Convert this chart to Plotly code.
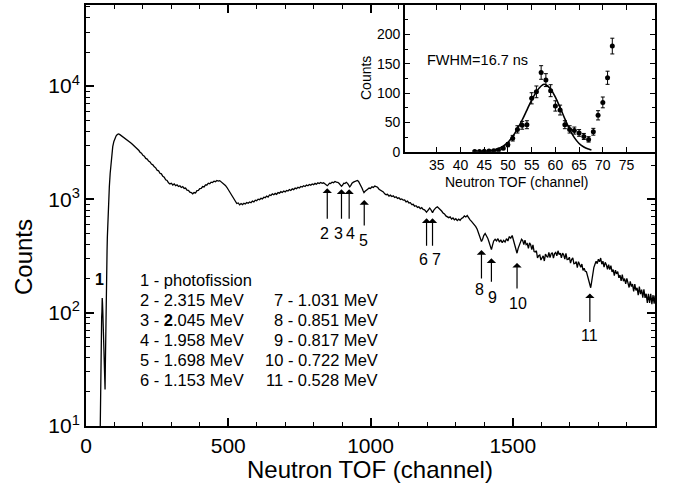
import math
import plotly.graph_objects as go

# ---------------- inset data (channel, counts, errors) ----------------
inset_ch = list(range(43, 73))
inset_counts = [0.5, 0.5, 0.7, 1, 1.5, 3, 6, 12, 23, 38, 45, 46, 91, 102, 135,
                122, 104, 78, 71, 46, 38, 36, 32, 26, 21, 34, 62, 84, 126, 180]
inset_err = [0.7, 0.7, 0.8, 1, 1.2, 1.7, 2.4, 3.5, 4.8, 6.2, 6.7, 6.8, 9.5, 10, 11.6,
             11, 10.2, 8.8, 8.4, 6.8, 6.2, 6, 5.7, 5.1, 4.6, 5.8, 7.9, 9.2, 11.2, 13.4]

# fitted curve in the inset
fit_ch = [44, 45, 46, 47, 48, 49, 50, 51, 52, 53, 54, 55, 56, 57, 57.6, 58, 59, 60,
          61, 62, 63, 64, 65, 66, 67, 67.6]
fit_counts = [0.3, 0.6, 1.3, 2.7, 5.3, 9.6, 16, 26, 39, 54, 71, 88, 102, 112, 115, 114,
              107, 93, 75, 56, 38, 24, 14, 8, 4.5, 3]

# ---------------- main spectrum, after the photofission peak ----------------
tail_ch_a = [73, 74, 75, 76, 77, 78, 80, 82, 85, 88, 91, 94, 98, 102, 106, 110, 114, 118, 122,
             126, 130, 134, 138, 142, 146, 150, 154, 158, 162, 166, 170, 174, 178, 182, 186, 190,
             195, 200, 205, 210, 215, 220, 225, 230, 235, 240, 245, 250, 255, 260, 265, 270, 275,
             280, 285, 290, 295, 300, 305, 310, 315, 320, 325, 330, 335, 340, 345, 350, 355, 360,
             365, 370, 375, 380, 385, 390, 395, 400, 405, 410, 415, 420, 425, 430, 435, 440, 445,
             450, 455, 460, 465, 470, 475, 480, 485, 490, 495, 500, 505, 510, 515, 520, 525, 530,
             535, 540, 545, 550, 555, 560, 565, 570, 575, 580, 585, 590, 595, 600, 605, 610, 615,
             620, 625, 630, 635, 640, 645, 650, 655, 660, 665, 670, 675, 680, 685, 690, 695, 700,
             705, 710, 715, 720, 725, 730, 735, 740, 745, 750, 755, 760, 765, 770, 775, 780, 785,
             790, 795, 800, 805, 810, 815, 820, 825, 830, 835, 840, 845, 848, 852, 856, 860, 865,
             870, 875, 880, 885, 890, 895, 898, 902, 906, 910, 915, 920, 924, 927, 931, 935, 940,
             945, 950, 954, 958, 962, 966, 970, 974, 977, 981, 985, 990, 995, 1000, 1005, 1010,
             1015, 1020, 1025, 1030, 1035, 1040, 1045, 1050, 1055, 1060, 1065, 1070, 1075, 1080,
             1085, 1090, 1095, 1100, 1105, 1110, 1115, 1120, 1125, 1130, 1135, 1140, 1145, 1150,
             1155, 1160, 1165, 1170, 1175, 1180, 1185, 1190, 1194, 1197, 1200, 1204, 1208, 1212,
             1215, 1218, 1222, 1226, 1230, 1235, 1240, 1245, 1250, 1255, 1260, 1265, 1270, 1275,
             1280, 1285, 1290, 1295, 1300, 1305, 1310, 1315, 1320, 1325, 1330, 1335, 1340, 1345,
             1350, 1355, 1360, 1365, 1370, 1375, 1380, 1385, 1390, 1394, 1398, 1403, 1408, 1412,
             1416, 1420, 1425, 1429, 1433, 1438, 1443, 1448, 1453, 1458, 1463, 1468, 1473, 1478,
             1483, 1488, 1493, 1498, 1502, 1506, 1510, 1515, 1519, 1523, 1527, 1531]
tail_counts_a = [260, 350, 460, 580, 700, 820, 1030, 1290, 1700, 2150, 2550, 2920, 3250, 3480,
                 3640, 3740, 3790, 3750, 3690,
                 3600, 3570, 3480, 3450, 3360, 3330, 3250, 3200, 3150, 3080, 3020, 2950, 2880,
                 2830, 2740, 2700, 2610, 2560, 2450, 2410, 2300, 2270, 2180, 2140, 2050, 2020,
                 1940, 1900, 1810, 1790, 1700, 1680, 1600, 1570, 1490, 1470, 1400, 1370, 1390,
                 1340, 1370, 1320, 1345, 1300, 1320, 1275, 1295, 1250, 1260, 1210, 1205, 1160,
                 1150, 1120, 1150, 1140, 1195, 1200, 1245, 1250, 1300, 1290, 1345, 1340, 1390,
                 1375, 1420, 1410, 1450, 1435, 1470, 1450, 1465, 1430, 1410, 1365, 1330, 1280,
                 1220, 1160, 1110, 1060, 1000, 965, 920, 930, 895, 920, 900, 925, 910, 940, 925,
                 950, 935, 965, 950, 985, 975, 1005, 995, 1025, 1010, 1045, 1035, 1070, 1050,
                 1095, 1085, 1120, 1100, 1130, 1110, 1150, 1135, 1170, 1150, 1185, 1165, 1200,
                 1185, 1220, 1200, 1240, 1220, 1260, 1245, 1280, 1260, 1300, 1285, 1320, 1300,
                 1340, 1320, 1355, 1335, 1370, 1350, 1385, 1360, 1400, 1380, 1410, 1385, 1400,
                 1370, 1345, 1320, 1350, 1390, 1380, 1420, 1405, 1440, 1420, 1415, 1380, 1330,
                 1305, 1340, 1390, 1380, 1415, 1380, 1320, 1290, 1330, 1390, 1420, 1440, 1460,
                 1470, 1440, 1390, 1320, 1260, 1190, 1150, 1180, 1210, 1230, 1260, 1250, 1290,
                 1275, 1310, 1295, 1280, 1230, 1205, 1180, 1165, 1120, 1100, 1110, 1070, 1090,
                 1060, 1075, 1040, 1055, 1020, 1035, 1000, 1010, 985, 990, 950, 965, 930, 935,
                 900, 905, 870, 880, 850, 860, 830, 845, 815, 810, 790, 770, 790, 825, 840, 815,
                 785, 765, 800, 830, 845, 860, 840, 810, 790, 760, 745, 715, 705, 690, 700, 670,
                 685, 660, 675, 650, 670, 655, 680, 690, 715, 700, 720, 680, 660, 640, 620, 600,
                 575, 545, 500, 460, 425, 445, 480, 500, 480, 455, 425, 390, 360, 395, 430, 445,
                 430, 450, 420, 440, 415, 435, 420, 450, 430, 470, 455, 480, 440, 410, 370, 335,
                 370, 400, 430, 445]
tail_ch_b = [1535, 1539, 1543, 1547, 1551, 1555, 1559, 1563, 1567, 1571, 1575, 1579, 1583, 1587,
             1591, 1595, 1599, 1603, 1607, 1611, 1615, 1619, 1623, 1627, 1631, 1635, 1639, 1643,
             1647, 1651, 1655, 1659, 1663, 1667, 1671, 1675, 1679, 1683, 1687, 1691, 1695, 1699,
             1703, 1707, 1711, 1715, 1719, 1723, 1727, 1731, 1735, 1739, 1743, 1747, 1751, 1755,
             1759, 1763, 1767, 1771, 1774, 1777, 1781, 1785, 1789, 1793, 1797, 1801, 1805, 1809,
             1813, 1817, 1821, 1825, 1829, 1833, 1837, 1841, 1845, 1849, 1853, 1857, 1861, 1865,
             1869, 1873, 1877, 1881, 1885, 1889, 1893, 1897, 1901, 1905, 1909, 1913, 1917, 1921,
             1925, 1929, 1933, 1937, 1941, 1945, 1949, 1953, 1957, 1961, 1965, 1969, 1973, 1977,
             1981, 1985, 1989, 1993, 1997, 2000]
tail_counts_b = [434, 400, 437, 399, 407, 370, 413, 398, 360, 397, 346, 343, 352, 305,
                 319, 323, 292, 301, 318, 286, 329, 316, 308, 340, 307, 331, 339, 304,
                 332, 340, 318, 352, 326, 336, 305, 336, 324, 297, 334, 295, 296, 309,
                 274, 294, 305, 271, 272, 283, 250, 282, 265, 252, 269, 236, 247, 231,
                 230, 210, 188, 170, 166, 185, 220, 250, 268, 285, 271, 297, 281, 304,
                 268, 285, 253, 278, 265, 242, 265, 240, 260, 229, 240, 212, 237, 220,
                 231, 203, 215, 191, 217, 190, 200, 180, 201, 181, 167, 189, 170, 179,
                 154, 179, 157, 166, 143, 170, 146, 160, 136, 161, 135, 147, 122, 147,
                 122, 147, 119, 143, 120, 142]

spec_ch = inset_ch + tail_ch_a + tail_ch_b
spec_counts = inset_counts + tail_counts_a + tail_counts_b

# ---------------- resonance markers ----------------
res_labels = ["2", "3", "4", "5", "6", "7", "8", "9", "10", "11"]
res_ch = [848, 898, 925, 978, 1197, 1218, 1390, 1425, 1515, 1771]
res_head = [1253, 1228, 1228, 989, 681, 681, 357, 302, 275, 148]
arrow_len = [32, 31, 31, 27, 29, 29, 30, 25, 27, 30]
label_dx = [-2.3, -3.4, 1.7, -0.3, -2.7, 4, -1.7, 1, 1, 0]
label_dy = [45, 44, 44, 41, 41, 41, 39.3, 39, 40.3, 41.7]

legend_left = ["1 - photofission", "2 - 2.315 MeV", "3 - <b>2</b>.045 MeV", "4 - 1.958 MeV",
               "5 - 1.698 MeV", "6 - 1.153 MeV"]
legend_right = ["7 - 1.031 MeV", "8 - 0.851 MeV", "9 - 0.817 MeV", "10 - 0.722 MeV",
                "11 - 0.528 MeV"]

main_xticks = [0, 500, 1000, 1500]
main_yticks = [10, 100, 1000, 10000]
main_yticktext = ["10<sup>1</sup>", "10<sup>2</sup>", "10<sup>3</sup>", "10<sup>4</sup>"]
inset_xticks = [35, 40, 45, 50, 55, 60, 65, 70, 75]
inset_yticks = [0, 50, 100, 150, 200]

FONT = "Liberation Sans, Arial, sans-serif"

fig = go.Figure()
fig.add_trace(go.Scatter(x=spec_ch, y=spec_counts, mode="lines",
                         line=dict(color="black", width=1.3), xaxis="x", yaxis="y",
                         showlegend=False))
fig.add_trace(go.Scatter(x=fit_ch, y=fit_counts, mode="lines",
                         line=dict(color="black", width=1.6, shape="spline"),
                         xaxis="x2", yaxis="y2", showlegend=False))
fig.add_trace(go.Scatter(x=inset_ch, y=inset_counts, mode="markers",
                         marker=dict(color="black", size=5),
                         error_y=dict(type="data", array=inset_err, color="black",
                                      thickness=1, width=2),
                         xaxis="x2", yaxis="y2", showlegend=False))

W, H = 673, 491
L, R, T, B = 86, 18, 5, 65
pw, ph = W - L - R, H - T - B


def px(xp):
    return (xp - L) / pw


def py(yp):
    return (H - B - yp) / ph


minor_x = [v for v in range(100, 2000, 100) if v % 500 != 0]
minor_y = [m * 10 ** e for e in range(1, 5) for m in range(2, 10) if m * 10 ** e < 52000]


def text_ann(x, y, t, size, xanchor="center", angle=0, xref="paper", yref="paper"):
    return dict(x=x, y=y, xref=xref, yref=yref, text=t, showarrow=False,
                xanchor=xanchor, yanchor="middle", textangle=angle,
                font=dict(family=FONT, size=size, color="black"))


ann = []
for lab, c, h, ln, dx, dy in zip(res_labels, res_ch, res_head, arrow_len, label_dx, label_dy):
    ann.append(dict(x=c, y=math.log10(h), xref="x", yref="y", text="",
                    showarrow=True, arrowhead=1, arrowsize=1.3, arrowwidth=1.2,
                    arrowcolor="black", ax=0, ay=ln, standoff=0, startstandoff=0))
    a = text_ann(c, math.log10(h), lab, 16, xref="x", yref="y")
    a.update(xshift=dx, yshift=-dy)
    ann.append(a)
ann.append(text_ann(47, math.log10(197), "<b>1</b>", 16, xref="x", yref="y"))
for i, t in enumerate(legend_left):
    ann.append(text_ann(px(138), py(279.5 + 20 * i), t, 16.5, xanchor="left"))
for i, t in enumerate(legend_right):
    ann.append(text_ann(px(380), py(299.5 + 20 * i), t, 16.5, xanchor="right"))
ann.append(text_ann(px(23), py(257), "Counts", 24, angle=-90))
ann.append(text_ann(px(370), py(470), "Neutron TOF (channel)", 24))
ann.append(text_ann(px(425), py(60), "FWHM=16.7 ns", 14.5, xanchor="left"))
ann.append(text_ann(px(516), py(182), "Neutron TOF (channel)", 14))
ann.append(text_ann(px(366), py(78), "Counts", 14, angle=-90))

axis_common = dict(showgrid=False, zeroline=False, showline=True, linecolor="black",
                   ticks="inside", tickcolor="black", mirror="ticks", automargin=False)

fig.update_layout(
    width=W, height=H, margin=dict(l=L, r=R, t=T, b=B, autoexpand=False),
    paper_bgcolor="white", plot_bgcolor="white", showlegend=False,
    xaxis=dict(domain=[0, 1], range=[0, 2000], tickvals=main_xticks,
               ticklen=8, tickwidth=1.5, linewidth=2,
               minor=dict(tickvals=minor_x, ticks="inside", ticklen=4, tickcolor="black",
                          tickwidth=1.2),
               tickfont=dict(family=FONT, size=21, color="black"), **axis_common),
    yaxis=dict(domain=[0, 1], type="log", range=[1, 4.716], tickvals=main_yticks,
               ticktext=main_yticktext, ticklen=8, tickwidth=1.5, linewidth=2,
               minor=dict(tickvals=minor_y, ticks="inside", ticklen=4, tickcolor="black",
                          tickwidth=1.2),
               tickfont=dict(family=FONT, size=21, color="black"), **axis_common),
    xaxis2=dict(domain=[px(405), 1], anchor="y2", range=[28.3, 81], tickvals=inset_xticks,
                ticklen=5, tickwidth=1.2, linewidth=1.8,
                tickfont=dict(family=FONT, size=14, color="black"), **axis_common),
    yaxis2=dict(domain=[py(151.7), 1], anchor="x2", range=[0, 250], tickvals=inset_yticks,
                ticklen=5, tickwidth=1.2, linewidth=1.8,
                minor=dict(dtick=25, ticks="inside", ticklen=3, tickcolor="black"),
                tickfont=dict(family=FONT, size=14, color="black"), **axis_common),
    annotations=ann,
)

fig.write_html("out.html", config={"displayModeBar": False},
               post_script="document.body.style.margin='0';")
